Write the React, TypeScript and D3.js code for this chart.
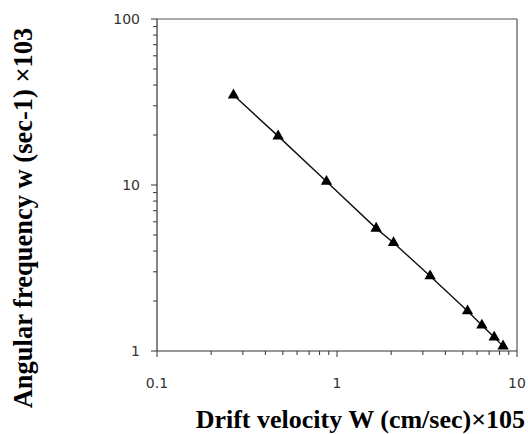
import React from "react";
import * as d3 from "d3";

const velocity = [0.266, 0.471, 0.874, 1.65, 2.06, 3.29, 5.31, 6.38, 7.47, 8.37];
const frequency = [34.8, 19.7, 10.5, 5.48, 4.49, 2.83, 1.74, 1.43, 1.21, 1.07];
const xTickValues = [0.1, 1, 10];
const xTickLabels = ["0.1", "1", "10"];
const yTickValues = [1, 10, 100];
const yTickLabels = ["1", "10", "100"];
const xTitle = "Drift velocity W (cm/sec)×105";
const yTitle = "Angular frequency w (sec-1) ×103";

const W = 528;
const H = 434;
const L = 157, R = 517, T = 19, B = 351;

export default function App() {
  const x = d3.scaleLog().domain([0.1, 10]).range([L, R]);
  const y = d3.scaleLog().domain([1, 100]).range([B, T]);
  const pts = velocity.map((v, i) => [v, frequency[i]] as [number, number]);
  const line = d3.line<[number, number]>().x(d => x(d[0])).y(d => y(d[1]))(pts) || "";
  const tri = d3.symbol().type(d3.symbolTriangle).size(56)() || "";

  const minorX: number[] = [];
  const minorY: number[] = [];
  [0.1, 1].forEach(b => { for (let k = 2; k <= 9; k++) minorX.push(b * k); });
  [1, 10].forEach(b => { for (let k = 2; k <= 9; k++) minorY.push(b * k); });

  const axisColor = "#333";
  const tickFont = "'DejaVu Sans', sans-serif";
  const serif = "'Liberation Serif', 'Times New Roman', serif";

  return (
    <svg width={W} height={H} style={{ position: "absolute", left: 0, top: 0, background: "#fff" }}>
      <rect x={0} y={0} width={W} height={H} fill="#fff" />
      {/* frame */}
      <line x1={L} x2={R} y1={T} y2={T} stroke="#555" strokeWidth={1.2} />
      <line x1={R} x2={R} y1={T} y2={B} stroke="#555" strokeWidth={1.2} />
      <line x1={L} x2={L} y1={T} y2={B} stroke={axisColor} strokeWidth={1.2} />
      <line x1={L} x2={R} y1={B} y2={B} stroke={axisColor} strokeWidth={1.2} />
      {/* x ticks */}
      {minorX.map((v, i) => (
        <line key={"mx" + i} x1={x(v)} x2={x(v)} y1={B} y2={B + 4} stroke={axisColor} strokeWidth={1} />
      ))}
      {xTickValues.map((v, i) => (
        <g key={"x" + i}>
          <line x1={x(v)} x2={x(v)} y1={B} y2={B + 6} stroke={axisColor} strokeWidth={1} />
          <text x={x(v)} y={388} textAnchor="middle" fontFamily={tickFont} fontSize={14} fill="#333">{xTickLabels[i]}</text>
        </g>
      ))}
      {/* y ticks */}
      {minorY.map((v, i) => (
        <line key={"my" + i} x1={L - 4} x2={L} y1={y(v)} y2={y(v)} stroke={axisColor} strokeWidth={1} />
      ))}
      {yTickValues.map((v, i) => (
        <g key={"y" + i}>
          <line x1={L - 6} x2={L} y1={y(v)} y2={y(v)} stroke={axisColor} strokeWidth={1} />
          <text x={140} y={y(v) + 5} textAnchor="end" fontFamily={tickFont} fontSize={14} fill="#333">{yTickLabels[i]}</text>
        </g>
      ))}
      {/* data */}
      <path d={line} fill="none" stroke="#111" strokeWidth={1.4} />
      {pts.map((p, i) => (
        <path key={"p" + i} d={tri} transform={`translate(${x(p[0])},${y(p[1])})`} fill="#000" />
      ))}
      {/* titles */}
      <text x={525} y={428} textAnchor="end" fontFamily={serif} fontWeight="bold" fontSize={26} fill="#000">{xTitle}</text>
      <text transform={`translate(32, ${218}) rotate(-90)`} textAnchor="middle" fontFamily={serif} fontWeight="bold" fontSize={26.5} fill="#000">{yTitle}</text>
    </svg>
  );
}
